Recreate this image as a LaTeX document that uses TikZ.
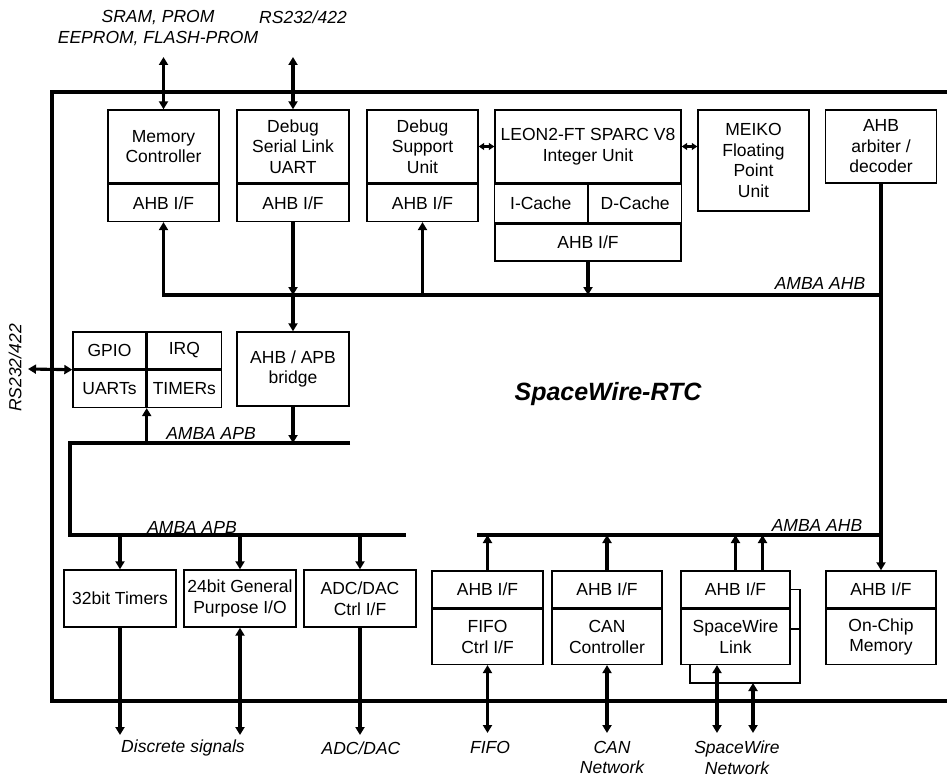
\documentclass[tikz,border=0pt]{standalone}
\usepackage{fontspec}
\setmainfont{Liberation Sans}
\usetikzlibrary{arrows.meta}

\begin{document}
\begin{tikzpicture}[x=1pt, y=-1pt,
    every node/.style={font=\fontsize{17.5}{20.5}\selectfont},
    blk/.style={draw, line width=1.4pt, inner sep=0pt, align=center},
    lnk/.style={line width=3.1pt, >={Triangle[length=8pt,width=9pt]}},
    tiny/.style={line width=2.4pt, >={Triangle[length=5.5pt,width=7pt]}},
    thin/.style={line width=1.4pt},
    lbl/.style={font=\fontsize{17.5}{20.5}\selectfont\itshape, align=center}]
  \useasboundingbox (0,0) rectangle (947,778);

  % chip outline (open to the right)
  \draw[line width=3.1pt] (947,92) -- (52,92) -- (52,701) -- (947,701);
  \node[font=\fontsize{25}{30}\selectfont\bfseries\itshape] (rtc) at (608,394) {SpaceWire-RTC};

  % top row
  \node[blk, minimum width=111, minimum height=73] (mc) at (163.5,146.5) {Memory\\Controller};
  \node[blk, minimum width=111, minimum height=37, anchor=north] (mcif) at (mc.south) {AHB I/F};
  \node[blk, minimum width=112, minimum height=73] (dsl) at (293,146.5) {Debug\\Serial Link\\UART};
  \node[blk, minimum width=112, minimum height=37, anchor=north] (dslif) at (dsl.south) {AHB I/F};
  \node[blk, minimum width=111, minimum height=73] (dsu) at (422.5,146.5) {Debug\\Support\\Unit};
  \node[blk, minimum width=111, minimum height=37, anchor=north] (dsuif) at (dsu.south) {AHB I/F};
  \node[blk, minimum width=186, minimum height=73] (iu) at (588,146.5) {LEON2-FT SPARC V8\\Integer Unit};
  \node[blk, minimum width=93, minimum height=38, anchor=north east] (icache) at (iu.south) {I-Cache};
  \node[blk, minimum width=93, minimum height=38, anchor=north west] (dcache) at (iu.south) {D-Cache};
  \node[blk, minimum width=186, minimum height=37, anchor=north] (iuif) at (icache.south east) {AHB I/F};
  \node[blk, minimum width=111, minimum height=101] (fpu) at (753.5,160.5) {MEIKO\\Floating\\Point\\Unit};
  \node[blk, minimum width=111, minimum height=73] (arb) at (881,146.5) {AHB\\arbiter /\\decoder};

  \draw[tiny,<->] (dsu.east) -- (iu.west);
  \draw[tiny,<->] (iu.east) -- (fpu.west |- iu.east);

  % external memory and debug link
  \node[lbl] (memlbl) at (158,28) {SRAM, PROM\\EEPROM, FLASH-PROM};
  \node[lbl] (rslbl) at (303,17) {RS232/422};
  \coordinate (memext) at (163.5,57);
  \coordinate (rsext) at (293,57);
  \draw[lnk,<->] (memext) -- (mc.north);
  \draw[lnk,<->] (rsext) -- (dsl.north);

  % AMBA AHB (processor side)
  \coordinate (ahbA) at (163.5,295);
  \draw[lnk,<-] (mcif.south) -- (ahbA) -- (arb.south |- ahbA);
  \draw[lnk,->] (dslif.south) -- (dslif.south |- ahbA);
  \draw[lnk,<-] (dsuif.south) -- (dsuif.south |- ahbA);
  \draw[lnk,->] (iuif.south) -- (iuif.south |- ahbA);
  \node[lbl] (ahblbl1) at (820,283) {AMBA AHB};

  % APB peripherals
  \node[blk, minimum width=73, minimum height=37] (gpio) at (109.5,350.5) {GPIO};
  \node[blk, minimum width=74, minimum height=37, anchor=west] (irq) at (gpio.east) {IRQ};
  \node[blk, minimum width=73, minimum height=37, anchor=north] (uarts) at (gpio.south) {UARTs};
  \node[blk, minimum width=74, minimum height=37, anchor=north] (timers) at (irq.south) {TIMERs};
  \node[blk, minimum width=112, minimum height=74] (bridge) at (293,369) {AHB / APB\\bridge};
  \draw[lnk,->] (dslif.south |- ahbA) -- (bridge.north);

  \coordinate (uartext) at (28,369);
  \draw[lnk,<->] (uartext) -- (gpio.south west);
  \node[lbl, rotate=90] (rslbl2) at (15,368) {RS232/422};

  % AMBA APB
  \coordinate (apbA) at (70,443);
  \coordinate (apbB) at (350,443);
  \coordinate (apbC) at (70,535);
  \coordinate (apbD) at (406,535);
  \draw[lnk] (apbB) -- (apbA) -- (apbC) -- (apbD);
  \draw[lnk,->] (bridge.south) -- (bridge.south |- apbA);
  \draw[lnk,->] (uarts.south east |- apbA) -- (uarts.south east);
  \node[lbl] (apblbl1) at (211,433) {AMBA APB};
  \node[lbl] (apblbl2) at (192,527) {AMBA APB};

  \node[blk, minimum width=112, minimum height=57] (tmr) at (120,598.5) {32bit Timers};
  \node[blk, minimum width=112, minimum height=57] (gpio24) at (240,598.5) {24bit General\\Purpose I/O};
  \node[blk, minimum width=112, minimum height=57] (adc) at (360,598.5) {ADC/DAC\\Ctrl I/F};
  \draw[lnk,->] (tmr.north |- apbC) -- (tmr.north);
  \draw[lnk,->] (gpio24.north |- apbC) -- (gpio24.north);
  \draw[lnk,->] (adc.north |- apbC) -- (adc.north);

  \coordinate (tmrext) at (120,735);
  \coordinate (gpioext) at (240,735);
  \coordinate (adcext) at (360,735);
  \draw[lnk,->] (tmr.south) -- (tmrext);
  \draw[lnk,<->] (gpio24.south) -- (gpioext);
  \draw[lnk,->] (adc.south) -- (adcext);
  \node[lbl] (disclbl) at (183,748) {Discrete signals};
  \node[lbl] (adclbl) at (361,748) {ADC/DAC};

  % AMBA AHB (peripheral side)
  \coordinate (ahbC) at (477,535);
  \draw[lnk] (ahbC) -- (arb.south |- ahbC);
  \node[lbl] (ahblbl2) at (817,525) {AMBA AHB};

  \node[blk, minimum width=111, minimum height=37] (fifoif) at (487.5,589.5) {AHB I/F};
  \node[blk, minimum width=111, minimum height=55, anchor=north] (fifo) at (fifoif.south) {FIFO\\Ctrl I/F};
  \node[blk, minimum width=110, minimum height=37] (canif) at (607,589.5) {AHB I/F};
  \node[blk, minimum width=110, minimum height=55, anchor=north] (can) at (canif.south) {CAN\\Controller};
  \node[blk, minimum width=109, minimum height=37] (spwif) at (735.5,589.5) {AHB I/F};
  \node[blk, minimum width=109, minimum height=55, anchor=north] (spw) at (spwif.south) {SpaceWire\\Link};
  \node[blk, minimum width=110, minimum height=37] (ocmif) at (881,589.5) {AHB I/F};
  \node[blk, minimum width=110, minimum height=55, anchor=north] (ocm) at (ocmif.south) {On-Chip\\Memory};

  \draw[lnk,->] (arb.south) -- (ocmif.north);
  \draw[lnk,->] (fifoif.north) -- (fifoif.north |- ahbC);
  \draw[lnk,->] (canif.north) -- (canif.north |- ahbC);
  \draw[lnk,->] (spwif.north) -- (spwif.north |- ahbC);
  \draw[lnk,->] ([xshift=27pt]spwif.north) -- ([xshift=27pt]spwif.north |- ahbC);

  % SpaceWire port loop
  \coordinate (brk) at (800,683);
  \draw[thin] (spwif.east) -| (brk) -| ([xshift=-45.5pt]spw.south);
  \draw[thin] ([yshift=8pt]spw.east) -- ([yshift=8pt]spw.east -| brk);

  \coordinate (fifoext) at (487.5,733);
  \coordinate (canext) at (607,733);
  \coordinate (spwext) at (717,733);
  \coordinate (spwlow) at (753,683);
  \coordinate (spwext2) at (753,733);
  \draw[lnk,<->] (fifo.south) -- (fifoext);
  \draw[lnk,<->] (can.south) -- (canext);
  \draw[lnk,<->] (spw.south -| spwext) -- (spwext);
  \draw[lnk,<->] (spwlow) -- (spwext2);
  \node[lbl] (fifolbl) at (490,747) {FIFO};
  \node[lbl] (canlbl) at (612,757.5) {CAN\\Network};
  \node[lbl] (spwlbl) at (737,757.5) {SpaceWire\\Network};
\end{tikzpicture}
\end{document}
